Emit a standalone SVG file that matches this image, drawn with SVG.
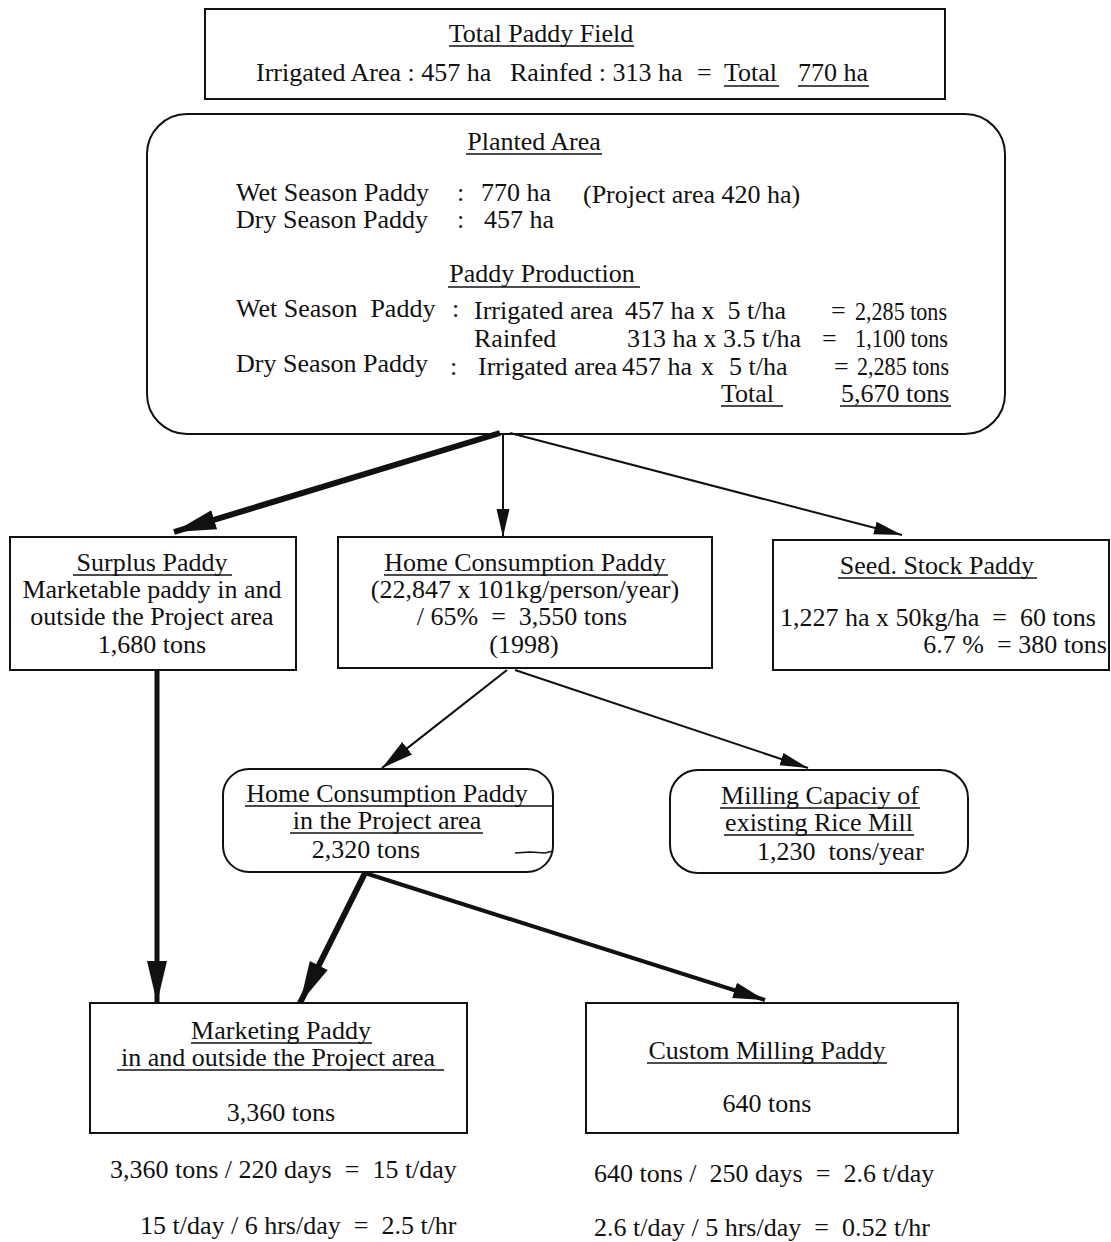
<svg xmlns="http://www.w3.org/2000/svg" width="1111" height="1242" viewBox="0 0 1111 1242">
  <style>
    text { font-family: "Liberation Serif", "Times New Roman", serif; font-size: 26px; fill: #111; white-space: pre; }
    .c { text-anchor: middle; }
    .e { text-anchor: end; }
    .box { fill: none; stroke: #111; stroke-width: 2; }
    .ul { stroke: #111; stroke-width: 1.5; }
    .ln { fill: none; stroke: #111; }
  </style>
  <defs>
    <marker id="headBig" markerUnits="userSpaceOnUse" markerWidth="44" markerHeight="24" refX="42" refY="12" orient="auto">
      <path d="M0,2 L42,12 L0,22 Z" fill="#111"/>
    </marker>
    <marker id="headMid" markerUnits="userSpaceOnUse" markerWidth="34" markerHeight="20" refX="32" refY="10" orient="auto">
      <path d="M0,2 L32,10 L0,18 Z" fill="#111"/>
    </marker>
    <marker id="headSmall" markerUnits="userSpaceOnUse" markerWidth="30" markerHeight="16" refX="28" refY="8" orient="auto">
      <path d="M0,1.5 L28,8 L0,14.5 Z" fill="#111"/>
    </marker>
  </defs>

  <rect width="1111" height="1242" fill="#fff"/>

  <!-- Connectors -->
  <g id="connectors">
    <line class="ln" x1="500" y1="433" x2="174" y2="532" stroke-width="6" marker-end="url(#headBig)"/>
    <line class="ln" x1="503" y1="434" x2="503" y2="537" stroke-width="2" marker-end="url(#headSmall)"/>
    <line class="ln" x1="510" y1="433" x2="902" y2="535" stroke-width="2" marker-end="url(#headSmall)"/>
    <line class="ln" x1="507" y1="670" x2="382" y2="768" stroke-width="2.2" marker-end="url(#headMid)"/>
    <line class="ln" x1="515" y1="670" x2="808" y2="768" stroke-width="2" marker-end="url(#headSmall)"/>
    <line class="ln" x1="157" y1="670" x2="157" y2="1003" stroke-width="5" marker-end="url(#headBig)"/>
    <line class="ln" x1="365" y1="873" x2="300" y2="1003" stroke-width="6" marker-end="url(#headBig)"/>
    <line class="ln" x1="365" y1="873" x2="765" y2="1000" stroke-width="4" marker-end="url(#headMid)"/>
    <path class="ln" d="M515,853 L530,852 L545,853 L553,851" stroke-width="1.3"/>
  </g>

  <!-- Total paddy field -->
  <g id="total-paddy-field">
    <rect class="box" x="205" y="9" width="740" height="90"/>
    <text class="c" x="541" y="42">Total Paddy Field</text>
    <line class="ul" x1="449" y1="46" x2="634" y2="46"/>
    <text x="256" y="81">Irrigated Area : 457 ha</text>
    <text x="510" y="81">Rainfed : 313 ha</text>
    <text x="697" y="81">=</text>
    <text x="724" y="81">Total</text>
    <text x="798" y="81">770 ha</text>
    <line class="ul" x1="724" y1="86" x2="779" y2="86"/>
    <line class="ul" x1="798" y1="86" x2="869" y2="86"/>
  </g>

  <!-- Planted area and paddy production -->
  <g id="planted-area">
    <rect class="box" x="147" y="114" width="858" height="320" rx="40" ry="40"/>
    <text class="c" x="534" y="150">Planted Area</text>
    <line class="ul" x1="466" y1="154" x2="602" y2="154"/>
    <text x="236" y="201">Wet Season Paddy</text>
    <text x="457" y="201">:</text>
    <text x="481" y="201">770 ha</text>
    <text x="583" y="203">(Project area 420 ha)</text>
    <text x="236" y="228">Dry Season Paddy</text>
    <text x="457" y="228">:</text>
    <text x="484" y="228">457 ha</text>

    <text class="c" x="542" y="282">Paddy Production</text>
    <line class="ul" x1="448" y1="287" x2="640" y2="287"/>
    <text x="236" y="317">Wet Season  Paddy</text>
    <text x="452" y="317">:</text>
    <text x="474" y="319">Irrigated area</text>
    <text x="625" y="319">457 ha x  5 t/ha</text>
    <text x="831" y="319">=</text>
    <text x="855" y="320" textLength="92" lengthAdjust="spacingAndGlyphs">2,285 tons</text>
    <text x="474" y="347">Rainfed</text>
    <text x="627" y="347">313 ha x 3.5 t/ha</text>
    <text x="822" y="347">=</text>
    <text x="855" y="347" textLength="93" lengthAdjust="spacingAndGlyphs">1,100 tons</text>
    <text x="236" y="372">Dry Season Paddy</text>
    <text x="450" y="375">:</text>
    <text x="478" y="375">Irrigated area</text>
    <text x="622" y="375">457 ha</text>
    <text x="701" y="375">x</text>
    <text x="729" y="375">5 t/ha</text>
    <text x="834" y="375">=</text>
    <text x="857" y="375" textLength="92" lengthAdjust="spacingAndGlyphs">2,285 tons</text>
    <text x="721" y="402">Total</text>
    <text x="841" y="402">5,670 tons</text>
    <line class="ul" x1="721" y1="406" x2="783" y2="406"/>
    <line class="ul" x1="840" y1="406" x2="951" y2="406"/>
  </g>

  <!-- Surplus paddy -->
  <g id="surplus-paddy">
    <rect class="box" x="10" y="537" width="286" height="133"/>
    <text class="c" x="152" y="571">Surplus Paddy</text>
    <line class="ul" x1="73" y1="575" x2="232" y2="575"/>
    <text class="c" x="152" y="598">Marketable paddy in and</text>
    <text class="c" x="152" y="625">outside the Project area</text>
    <text class="c" x="152" y="653">1,680 tons</text>
  </g>

  <!-- Home consumption paddy -->
  <g id="home-consumption-paddy">
    <rect class="box" x="338" y="537" width="374" height="131"/>
    <text class="c" x="525" y="571">Home Consumption Paddy</text>
    <line class="ul" x1="384" y1="575" x2="668" y2="575"/>
    <text class="c" x="525" y="598">(22,847 x 101kg/person/year)</text>
    <text class="c" x="522" y="625">/ 65%  =  3,550 tons</text>
    <text class="c" x="524" y="653">(1998)</text>
  </g>

  <!-- Seed and stock paddy -->
  <g id="seed-stock-paddy">
    <rect class="box" x="773" y="540" width="336" height="130"/>
    <text class="c" x="937" y="574">Seed. Stock Paddy</text>
    <line class="ul" x1="838" y1="578" x2="1037" y2="578"/>
    <text x="780" y="626">1,227 ha x 50kg/ha  =  60 tons</text>
    <text class="e" x="1107" y="653">6.7 %  = 380 tons</text>
  </g>

  <!-- Home consumption in the project area -->
  <g id="home-consumption-project">
    <rect class="box" x="223" y="769" width="330" height="103" rx="26" ry="26"/>
    <text class="c" x="387" y="802">Home Consumption Paddy</text>
    <line class="ul" x1="245" y1="806" x2="553" y2="806"/>
    <text class="c" x="387" y="829">in the Project area</text>
    <line class="ul" x1="290" y1="833" x2="483" y2="833"/>
    <text class="c" x="366" y="858">2,320 tons</text>
  </g>

  <!-- Milling capacity -->
  <g id="milling-capacity">
    <rect class="box" x="670" y="770" width="298" height="103" rx="28" ry="28"/>
    <text class="c" x="820" y="804">Milling Capaciy of</text>
    <line class="ul" x1="720" y1="808" x2="920" y2="808"/>
    <text class="c" x="819" y="831">existing Rice Mill</text>
    <line class="ul" x1="724" y1="835" x2="914" y2="835"/>
    <text x="757" y="860">1,230  tons/year</text>
  </g>

  <!-- Marketing paddy -->
  <g id="marketing-paddy">
    <rect class="box" x="90" y="1003" width="377" height="130"/>
    <text class="c" x="281" y="1039">Marketing Paddy</text>
    <line class="ul" x1="191" y1="1043" x2="372" y2="1043"/>
    <text class="c" x="278" y="1066">in and outside the Project area</text>
    <line class="ul" x1="117" y1="1070" x2="444" y2="1070"/>
    <text class="c" x="281" y="1121">3,360 tons</text>
  </g>

  <!-- Custom milling paddy -->
  <g id="custom-milling-paddy">
    <rect class="box" x="586" y="1003" width="372" height="130"/>
    <text class="c" x="767" y="1059">Custom Milling Paddy</text>
    <line class="ul" x1="647" y1="1063" x2="887" y2="1063"/>
    <text class="c" x="767" y="1112">640 tons</text>
  </g>

  <!-- Throughput calculations -->
  <g id="throughput">
    <text x="110" y="1178">3,360 tons / 220 days  =  15 t/day</text>
    <text x="140" y="1234">15 t/day / 6 hrs/day  =  2.5 t/hr</text>
    <text x="594" y="1182">640 tons /  250 days  =  2.6 t/day</text>
    <text x="594" y="1236">2.6 t/day / 5 hrs/day  =  0.52 t/hr</text>
  </g>
</svg>
